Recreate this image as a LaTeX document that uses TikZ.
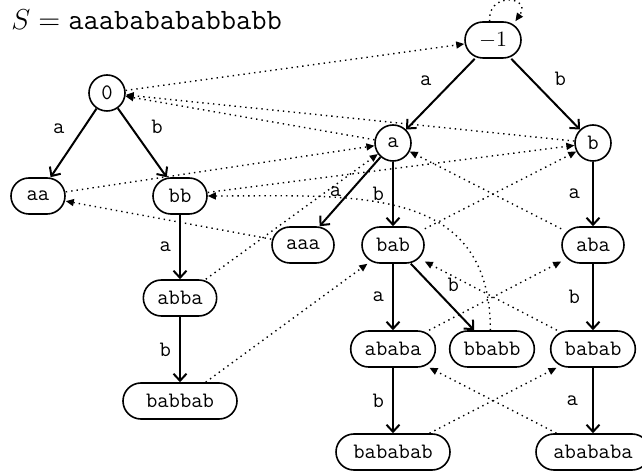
\documentclass[tikz,border=0pt]{standalone}
\usetikzlibrary{arrows.meta}

\begin{document}
\begin{tikzpicture}[x=0.5pt,y=-0.5pt,>={Straight Barb[length=3.5pt,width=6.5pt]},
        every node/.style={font=\fontsize{11}{13}\selectfont\ttfamily},
        pal/.style={draw,thick,rounded corners=9pt,minimum height=18pt,minimum width=27pt,inner xsep=7pt},
        root/.style={draw,thick,circle,minimum size=18pt,inner sep=0pt},
        tr/.style={->,line width=1pt},
        suf/.style={dotted,line width=0.7pt,-{Triangle[length=4pt,width=3.5pt]}},
        lbl/.style={inner sep=4pt}]
        \useasboundingbox (0,0) rectangle (642,475);
        \node[anchor=west,inner sep=0pt,font=\fontsize{14.8}{17}\selectfont] (title) at (11,20) {$S=\texttt{aaababababbabb}$};

        % the two roots
        \node[pal] (m1) at (493,40) {$-1$};
        \node[root] (z) at (107,93) {0};
        % palindromes
        \node[root] (a) at (393,143) {a};
        \node[root] (b) at (593,143) {b};
        \node[pal] (aa) at (38,196) {aa};
        \node[pal] (bb) at (180,196) {bb};
        \node[pal] (aaa) at (303,245) {aaa};
        \node[pal] (bab) at (393,245) {bab};
        \node[pal] (aba) at (593,245) {aba};
        \node[pal] (abba) at (180,298) {abba};
        \node[pal] (ababa) at (393,349) {ababa};
        \node[pal] (bbabb) at (492,349) {bbabb};
        \node[pal] (babab) at (593,349) {babab};
        \node[pal,minimum width=57pt] (babbab) at (180,401) {babbab};
        \node[pal,minimum width=57pt] (bababab) at (393,452) {bababab};
        \node[pal,minimum width=57pt] (abababa) at (593,452) {abababa};

        % edges of the tree
        \draw[tr] (m1) -- node[lbl,above left]{a} (a);
        \draw[tr] (m1) -- node[lbl,above right]{b} (b);
        \draw[tr] (z) -- node[lbl,above left]{a} (aa);
        \draw[tr] (z) -- node[lbl,above right]{b} (bb);
        \draw[tr] (a) -- node[lbl,left]{a} (aaa);
        \draw[tr] (a) -- node[lbl,left]{b} (bab);
        \draw[tr] (b) -- node[lbl,left,xshift=-2pt]{a} (aba);
        \draw[tr] (bb) -- node[lbl,left]{a} (abba);
        \draw[tr] (abba) -- node[lbl,left]{b} (babbab);
        \draw[tr] (bab) -- node[lbl,left]{a} (ababa);
        \draw[tr] (bab) -- node[lbl,above right,inner sep=2pt]{b} (bbabb);
        \draw[tr] (aba) -- node[lbl,left,xshift=-2pt]{b} (babab);
        \draw[tr] (ababa) -- node[lbl,left]{b} (bababab);
        \draw[tr] (babab) -- node[lbl,left,xshift=-3pt]{a} (abababa);

        % suffix links
        \draw[suf] (m1.100) to[out=95,in=55,looseness=3] (m1.40);
        \draw[suf] (z) -- (m1);
        \draw[suf] (a) -- (z);
        \draw[suf] (b) -- (z);
        \draw[suf] (aa) -- (a);
        \draw[suf] (bb) -- (b);
        \draw[suf] (aaa) -- (aa);
        \draw[suf] (abba) -- (a);
        \draw[suf] (bab) -- (b);
        \draw[suf] (aba) -- (a);
        \draw[suf] (ababa) -- (aba);
        \draw[suf] (bbabb.95) to[out=90,in=0,looseness=1.2] (bb.east);
        \draw[suf] (babab) -- (bab);
        \draw[suf] (babbab) -- (bab);
        \draw[suf] (bababab) -- (babab);
        \draw[suf] (abababa) -- (ababa);
\end{tikzpicture}
\end{document}
